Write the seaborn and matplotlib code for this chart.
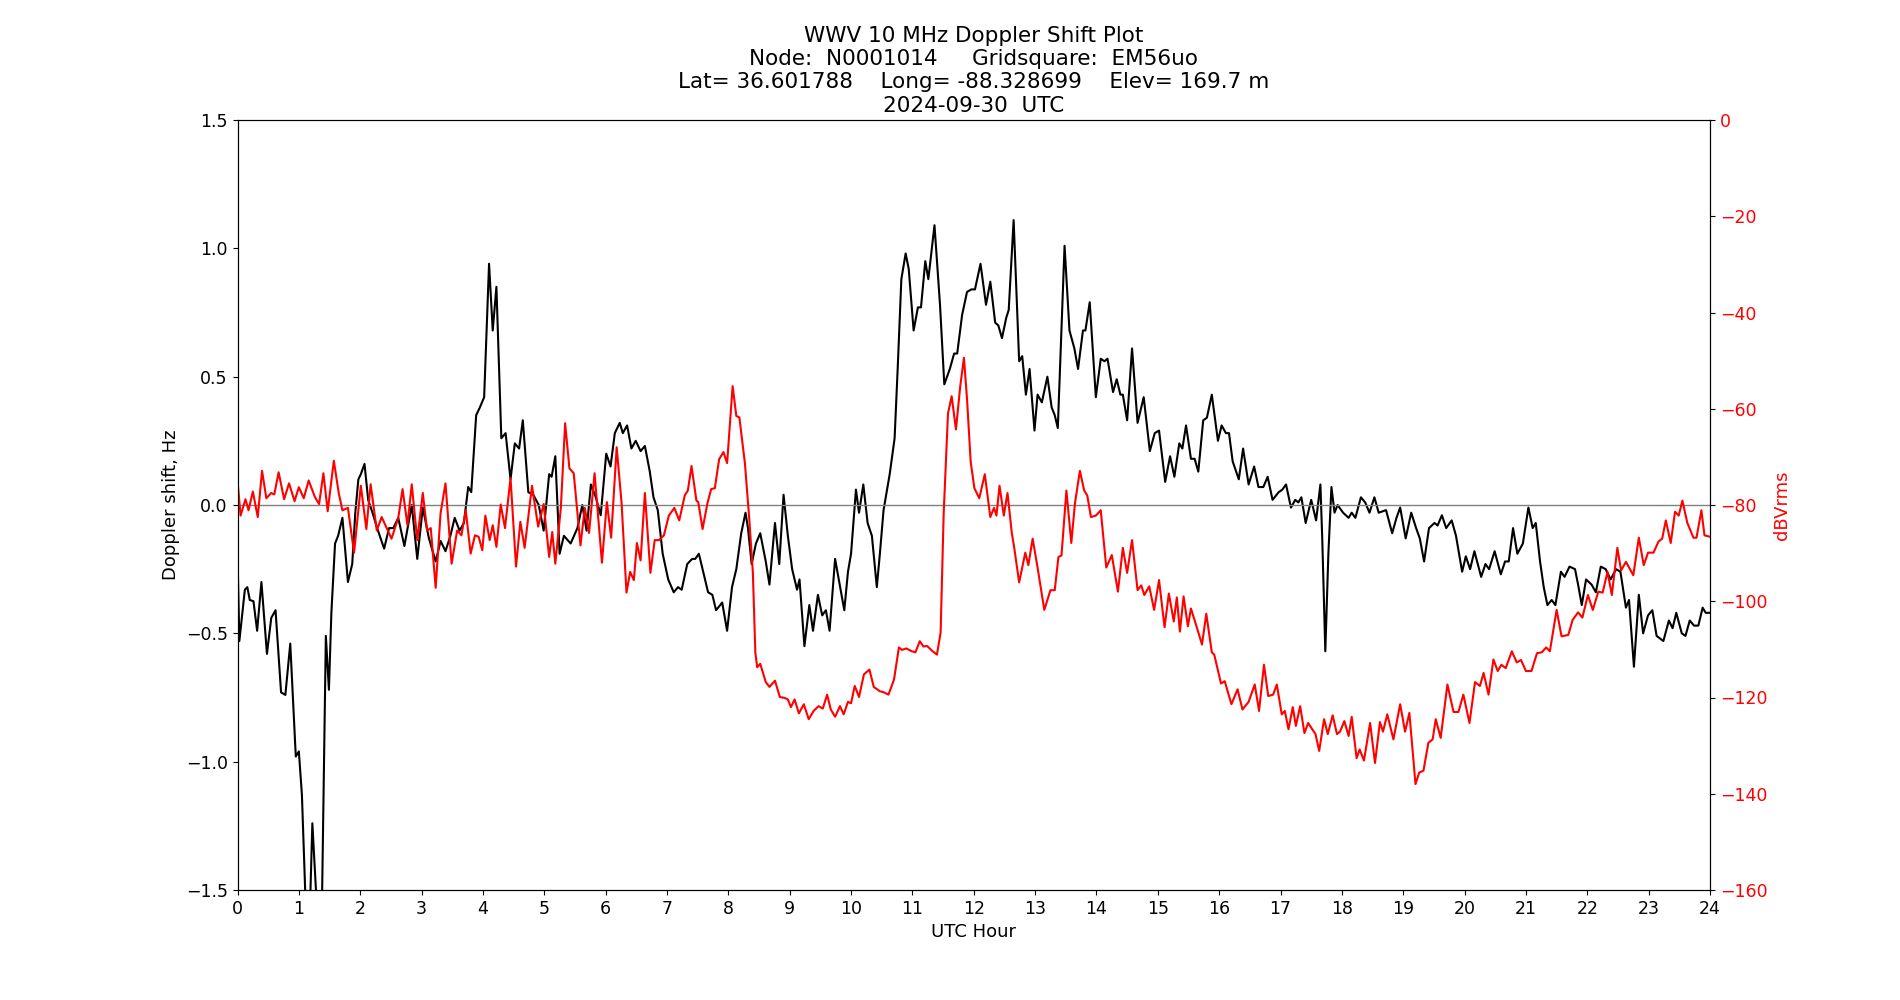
import matplotlib
matplotlib.use("Agg")
import matplotlib.pyplot as plt
import seaborn as sns

# Doppler shift (black), hour of day -> Hz
doppler_hours = [
    0.00, 0.03, 0.12, 0.16, 0.20, 0.26, 0.32, 0.39, 0.48, 0.55, 0.62, 0.71, 0.78, 0.86, 0.95,
    1.00, 1.05, 1.11, 1.16, 1.22, 1.29, 1.34, 1.38, 1.44, 1.49, 1.53, 1.59, 1.64, 1.71, 1.80,
    1.87, 1.92, 1.97, 2.01, 2.07, 2.13, 2.20, 2.29, 2.39, 2.47, 2.54, 2.62, 2.72, 2.84, 2.93,
    3.02, 3.12, 3.23, 3.31, 3.39, 3.47, 3.54, 3.62, 3.69, 3.76, 3.81, 3.89, 3.95, 4.02, 4.10,
    4.16, 4.22, 4.30, 4.37, 4.45, 4.52, 4.59, 4.65, 4.74, 4.82, 4.91, 4.99, 5.08, 5.12, 5.18,
    5.25, 5.32, 5.43, 5.54, 5.62, 5.69, 5.76, 5.84, 5.92, 6.01, 6.08, 6.15, 6.23, 6.28, 6.35,
    6.42, 6.49, 6.57, 6.64, 6.72, 6.78, 6.85, 6.93, 7.02, 7.11, 7.18, 7.24, 7.33, 7.41, 7.46,
    7.52, 7.60, 7.67, 7.74, 7.80, 7.90, 7.98, 8.06, 8.13, 8.21, 8.28, 8.32, 8.38, 8.45, 8.52,
    8.61, 8.67, 8.76, 8.83, 8.90, 8.97, 9.04, 9.12, 9.16, 9.24, 9.32, 9.38, 9.46, 9.53, 9.59,
    9.65, 9.74, 9.83, 9.89, 9.95, 10.00, 10.08, 10.13, 10.20, 10.27, 10.34, 10.42, 10.47, 10.53,
    10.63, 10.71, 10.76, 10.82, 10.89, 10.94, 11.02, 11.09, 11.14, 11.21, 11.26, 11.36, 11.45,
    11.52, 11.61, 11.68, 11.73, 11.81, 11.89, 11.96, 12.02, 12.11, 12.20, 12.27, 12.35, 12.40,
    12.46, 12.53, 12.57, 12.65, 12.74, 12.79, 12.85, 12.91, 12.99, 13.04, 13.11, 13.20, 13.27,
    13.32, 13.37, 13.48, 13.56, 13.64, 13.70, 13.78, 13.82, 13.89, 13.99, 14.07, 14.13, 14.18,
    14.27, 14.33, 14.39, 14.43, 14.50, 14.58, 14.67, 14.77, 14.87, 14.95, 15.02, 15.12, 15.20,
    15.27, 15.35, 15.40, 15.46, 15.54, 15.60, 15.66, 15.74, 15.80, 15.88, 15.98, 16.04, 16.11,
    16.16, 16.22, 16.32, 16.39, 16.48, 16.57, 16.64, 16.72, 16.79, 16.87, 16.97, 17.03, 17.09,
    17.17, 17.24, 17.29, 17.34, 17.41, 17.50, 17.58, 17.65, 17.68, 17.73, 17.78, 17.83, 17.88,
    17.93, 18.02, 18.11, 18.16, 18.22, 18.31, 18.38, 18.45, 18.53, 18.60, 18.72, 18.82, 18.89,
    18.95, 19.04, 19.13, 19.21, 19.27, 19.34, 19.42, 19.51, 19.56, 19.63, 19.70, 19.79, 19.86,
    19.96, 20.02, 20.09, 20.16, 20.27, 20.34, 20.40, 20.49, 20.59, 20.66, 20.72, 20.79, 20.86,
    20.95, 21.04, 21.11, 21.16, 21.23, 21.29, 21.35, 21.42, 21.48, 21.57, 21.63, 21.71, 21.80,
    21.85, 21.91, 21.98, 22.07, 22.14, 22.22, 22.30, 22.38, 22.47, 22.54, 22.63, 22.68, 22.76,
    22.84, 22.91, 22.99, 23.06, 23.13, 23.24, 23.33, 23.39, 23.45, 23.54, 23.60, 23.67, 23.74,
    23.81, 23.88, 23.93, 24.00,
]
doppler_hz = [
    -0.19, -0.53, -0.33, -0.32, -0.37, -0.375, -0.49, -0.30, -0.58, -0.44, -0.41, -0.73, -0.74, -0.54, -0.98,
    -0.96, -1.13, -1.55, -1.75, -1.24, -1.55, -1.75, -1.50, -0.51, -0.72, -0.42, -0.15, -0.12, -0.05, -0.30,
    -0.23, -0.03, 0.10, 0.12, 0.16, 0.02, -0.03, -0.10, -0.17, -0.09, -0.09, -0.05, -0.16, 0.00, -0.21,
    -0.01, -0.13, -0.22, -0.14, -0.18, -0.12, -0.05, -0.10, -0.07, 0.07, 0.05, 0.35, 0.38, 0.42, 0.94,
    0.68, 0.85, 0.26, 0.28, 0.10, 0.24, 0.22, 0.33, 0.05, 0.04, 0.00, -0.10, 0.12, 0.11, 0.19,
    -0.19, -0.12, -0.15, -0.09, 0.00, -0.10, 0.08, 0.03, -0.04, 0.20, 0.15, 0.28, 0.32, 0.28, 0.31,
    0.22, 0.25, 0.21, 0.23, 0.13, 0.03, -0.02, -0.19, -0.29, -0.34, -0.32, -0.33, -0.23, -0.21, -0.21,
    -0.19, -0.27, -0.34, -0.35, -0.41, -0.38, -0.49, -0.32, -0.25, -0.11, -0.03, -0.09, -0.23, -0.15, -0.11,
    -0.22, -0.31, -0.07, -0.23, 0.04, -0.12, -0.25, -0.33, -0.29, -0.55, -0.39, -0.49, -0.35, -0.43, -0.41,
    -0.49, -0.21, -0.33, -0.41, -0.26, -0.19, 0.06, -0.03, 0.08, -0.07, -0.12, -0.32, -0.19, -0.02,
    0.12, 0.26, 0.53, 0.88, 0.98, 0.92, 0.68, 0.77, 0.77, 0.95, 0.88, 1.09, 0.78,
    0.47, 0.53, 0.59, 0.59, 0.74, 0.83, 0.84, 0.84, 0.94, 0.78, 0.87, 0.71, 0.70,
    0.65, 0.73, 0.76, 1.11, 0.56, 0.58, 0.43, 0.53, 0.29, 0.43, 0.40, 0.50, 0.38,
    0.35, 0.30, 1.01, 0.68, 0.61, 0.53, 0.68, 0.68, 0.79, 0.42, 0.57, 0.56, 0.57,
    0.44, 0.49, 0.43, 0.43, 0.33, 0.61, 0.32, 0.42, 0.21, 0.28, 0.29, 0.09, 0.19,
    0.11, 0.24, 0.22, 0.31, 0.18, 0.18, 0.13, 0.33, 0.34, 0.43, 0.25, 0.31, 0.28,
    0.28, 0.17, 0.10, 0.22, 0.08, 0.15, 0.07, 0.07, 0.11, 0.02, 0.05, 0.06, 0.08,
    -0.01, 0.02, 0.01, 0.03, -0.07, 0.02, -0.06, 0.08, -0.13, -0.57, -0.19, 0.07, -0.03,
    0.00, -0.03, -0.05, -0.03, -0.05, 0.03, 0.01, -0.03, 0.03, -0.03, -0.02, -0.11, -0.05,
    -0.01, -0.13, -0.03, -0.09, -0.13, -0.22, -0.09, -0.07, -0.08, -0.04, -0.09, -0.06, -0.12,
    -0.26, -0.20, -0.25, -0.18, -0.28, -0.23, -0.25, -0.18, -0.27, -0.22, -0.22, -0.09, -0.19,
    -0.15, -0.01, -0.09, -0.07, -0.22, -0.32, -0.39, -0.37, -0.39, -0.26, -0.28, -0.24, -0.25,
    -0.31, -0.39, -0.29, -0.31, -0.34, -0.24, -0.25, -0.29, -0.25, -0.26, -0.40, -0.37, -0.63,
    -0.35, -0.50, -0.43, -0.41, -0.51, -0.53, -0.45, -0.48, -0.42, -0.50, -0.51, -0.45, -0.47,
    -0.47, -0.40, -0.42, -0.42,
]

# received signal level (red), hour of day -> dBVrms
power_hours = [
    0.00, 0.05, 0.13, 0.18, 0.25, 0.33, 0.40, 0.47, 0.55, 0.60, 0.67, 0.76, 0.84, 0.93, 1.00,
    1.08, 1.16, 1.26, 1.33, 1.40, 1.47, 1.57, 1.65, 1.71, 1.80, 1.90, 2.01, 2.10, 2.17, 2.27,
    2.35, 2.51, 2.62, 2.69, 2.77, 2.84, 2.93, 3.02, 3.09, 3.15, 3.23, 3.31, 3.39, 3.49, 3.58,
    3.65, 3.72, 3.80, 3.87, 3.93, 3.99, 4.04, 4.11, 4.16, 4.22, 4.29, 4.36, 4.45, 4.54, 4.61,
    4.68, 4.80, 4.90, 4.99, 5.08, 5.13, 5.18, 5.27, 5.34, 5.41, 5.48, 5.59, 5.66, 5.73, 5.82,
    5.94, 6.02, 6.09, 6.18, 6.26, 6.34, 6.40, 6.46, 6.51, 6.57, 6.64, 6.73, 6.80, 6.87, 6.95,
    7.03, 7.12, 7.20, 7.29, 7.34, 7.40, 7.48, 7.51, 7.58, 7.66, 7.72, 7.78, 7.85, 7.92, 7.98,
    8.07, 8.13, 8.18, 8.27, 8.34, 8.40, 8.44, 8.47, 8.52, 8.61, 8.67, 8.76, 8.84, 8.92, 8.97,
    9.02, 9.08, 9.15, 9.23, 9.31, 9.39, 9.47, 9.54, 9.61, 9.67, 9.74, 9.82, 9.88, 9.95, 10.00,
    10.06, 10.13, 10.21, 10.30, 10.37, 10.47, 10.53, 10.61, 10.70, 10.78, 10.83, 10.90, 10.99,
    11.05, 11.12, 11.18, 11.24, 11.33, 11.40, 11.46, 11.51, 11.58, 11.64, 11.71, 11.78, 11.84,
    11.89, 11.95, 12.01, 12.09, 12.18, 12.27, 12.33, 12.37, 12.42, 12.49, 12.55, 12.62, 12.66,
    12.74, 12.84, 12.89, 12.96, 13.04, 13.15, 13.25, 13.32, 13.38, 13.43, 13.51, 13.59, 13.65,
    13.73, 13.80, 13.85, 13.91, 13.99, 14.07, 14.16, 14.25, 14.35, 14.43, 14.50, 14.58, 14.67,
    14.73, 14.78, 14.86, 14.94, 15.02, 15.11, 15.18, 15.26, 15.31, 15.36, 15.42, 15.49, 15.54,
    15.64, 15.72, 15.79, 15.88, 15.92, 16.03, 16.09, 16.20, 16.30, 16.38, 16.48, 16.58, 16.65,
    16.73, 16.80, 16.88, 16.94, 17.02, 17.07, 17.13, 17.20, 17.25, 17.32, 17.39, 17.45, 17.57,
    17.63, 17.71, 17.77, 17.85, 17.92, 17.97, 18.04, 18.11, 18.16, 18.24, 18.29, 18.36, 18.46,
    18.54, 18.62, 18.67, 18.74, 18.84, 18.95, 19.03, 19.10, 19.20, 19.26, 19.33, 19.41, 19.48,
    19.53, 19.61, 19.72, 19.82, 19.90, 19.98, 20.08, 20.17, 20.25, 20.31, 20.39, 20.47, 20.54,
    20.60, 20.67, 20.77, 20.85, 20.92, 21.00, 21.09, 21.18, 21.26, 21.33, 21.39, 21.50, 21.58,
    21.69, 21.76, 21.85, 21.92, 22.01, 22.09, 22.18, 22.25, 22.33, 22.40, 22.49, 22.55, 22.63,
    22.75, 22.84, 22.92, 22.99, 23.08, 23.16, 23.22, 23.28, 23.36, 23.43, 23.49, 23.55, 23.63,
    23.73, 23.78, 23.86, 23.91, 24.00,
]
power_db = [
    -74.9, -82.2, -78.8, -81.1, -77.2, -82.5, -72.9, -78.6, -77.5, -77.8, -73.2, -78.8, -75.5, -79.2, -76.3,
    -78.6, -74.9, -78.3, -79.8, -73.4, -81.3, -70.8, -77.5, -81.1, -80.6, -89.9, -76.0, -85.0, -75.7, -85.3,
    -82.5, -87.0, -82.7, -76.7, -84.2, -75.7, -87.3, -77.5, -85.3, -84.8, -97.2, -81.7, -75.5, -92.2, -85.3,
    -86.3, -81.1, -90.1, -86.3, -86.6, -89.4, -82.2, -87.3, -84.2, -88.7, -79.9, -84.8, -74.4, -92.8, -83.5,
    -88.9, -76.0, -84.5, -79.8, -90.8, -85.6, -92.2, -80.6, -63.0, -72.4, -73.4, -88.4, -80.6, -85.8, -73.4,
    -92.0, -79.4, -86.8, -68.0, -79.6, -98.2, -93.9, -95.6, -87.9, -91.5, -77.5, -94.1, -87.3, -87.3, -86.3,
    -82.2, -80.6, -83.2, -78.0, -77.0, -71.9, -79.1, -79.4, -85.0, -79.6, -76.7, -76.5, -70.5, -69.0, -71.3,
    -55.3, -61.5, -61.8, -71.3, -82.7, -94.1, -110.6, -113.7, -113.0, -116.8, -117.8, -116.5, -119.9, -120.1, -120.4,
    -122.0, -120.4, -123.3, -121.4, -124.5, -122.8, -121.8, -122.3, -119.4, -122.5, -124.0, -121.8, -123.5, -120.9, -121.2,
    -117.6, -119.9, -115.2, -114.2, -117.8, -118.7, -118.9, -119.4, -116.3, -109.6, -110.1, -109.8, -110.4,
    -110.6, -108.3, -109.4, -109.3, -110.4, -111.1, -106.5, -81.7, -61.0, -57.4, -64.3, -55.3, -49.4,
    -57.9, -71.0, -76.5, -78.6, -73.6, -82.5, -80.6, -82.2, -76.0, -82.2, -77.5, -85.8, -88.9,
    -96.1, -89.9, -92.5, -87.0, -93.0, -101.8, -97.7, -97.7, -90.8, -90.5, -77.0, -87.9, -79.6,
    -72.9, -77.0, -78.0, -82.5, -82.2, -81.1, -93.0, -90.4, -98.0, -88.9, -94.1, -87.3, -97.7,
    -96.7, -98.7, -96.9, -101.8, -95.6, -105.4, -98.4, -104.2, -99.2, -106.3, -99.0, -105.2, -101.5,
    -105.6, -109.0, -102.6, -110.6, -111.1, -117.1, -116.6, -121.4, -118.3, -122.5, -120.9, -117.3, -122.8,
    -113.2, -119.7, -119.4, -117.3, -123.5, -122.8, -126.6, -122.0, -125.9, -121.8, -127.4, -125.3, -127.6,
    -131.1, -124.5, -127.6, -123.7, -127.6, -127.1, -124.9, -128.0, -124.0, -132.6, -130.8, -133.1, -125.3,
    -133.6, -125.1, -127.1, -123.5, -128.7, -121.4, -127.1, -123.2, -138.0, -135.6, -135.2, -129.4, -128.7,
    -124.5, -128.4, -117.3, -123.0, -123.0, -119.4, -125.3, -116.8, -117.6, -114.9, -119.4, -112.1, -114.5,
    -113.2, -113.9, -110.4, -112.7, -112.2, -114.5, -114.5, -110.8, -110.6, -109.6, -110.4, -101.8, -107.3,
    -107.0, -103.9, -102.3, -103.4, -98.7, -101.8, -98.0, -98.2, -93.9, -98.7, -88.9, -93.6, -91.8,
    -94.6, -86.8, -92.5, -89.9, -89.9, -87.6, -87.0, -83.2, -87.9, -81.4, -82.2, -79.1, -83.7,
    -86.8, -86.8, -81.1, -86.3, -86.6,
]

hour_ticks = list(range(0, 25))
doppler_ticks = [-1.5, -1.0, -0.5, 0.0, 0.5, 1.0, 1.5]
power_ticks = [0, -20, -40, -60, -80, -100, -120, -140, -160]

title = ("WWV 10 MHz Doppler Shift Plot\n"
         "Node:  N0001014     Gridsquare:  EM56uo\n"
         "Lat= 36.601788    Long= -88.328699    Elev= 169.7 m\n"
         "2024-09-30  UTC")

fig = plt.figure(figsize=(19, 10), dpi=100)
ax = fig.add_subplot(111)

sns.lineplot(x=doppler_hours, y=doppler_hz, ax=ax, color="black", linewidth=1.5,
             estimator=None, sort=False)
ax.axhline(0, color="gray", linewidth=1)
ax.set_xlim(0, 24)
ax.set_ylim(-1.5, 1.5)
ax.set_xticks(hour_ticks)
ax.set_yticks(doppler_ticks)
ax.tick_params(labelsize=12.5)
ax.set_xlabel("UTC Hour", fontsize=13)
ax.set_ylabel("Doppler shift, Hz", fontsize=13)
ax.set_title(title, fontsize=15.5)

ax2 = ax.twinx()
sns.lineplot(x=power_hours, y=power_db, ax=ax2, color="red", linewidth=1.5,
             estimator=None, sort=False)
ax2.set_ylim(-160, 0)
ax2.set_yticks(power_ticks)
ax2.tick_params(axis="y", labelcolor="red", labelsize=12.5)
ax2.set_ylabel("dBVrms", color="red", fontsize=13)

fig.savefig("out.png", dpi=100)
